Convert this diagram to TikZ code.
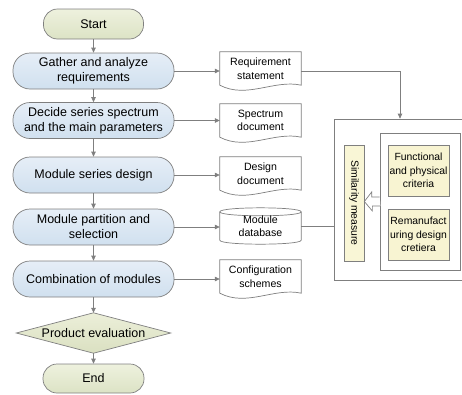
\documentclass[tikz,border=0pt]{standalone}
\usepackage{fontspec}
\setmainfont{Liberation Sans}
\usepackage{graphicx}
\usetikzlibrary{arrows.meta,calc,backgrounds}
\definecolor{lc}{HTML}{7F7F7F}
\definecolor{procA}{HTML}{E6EEF7}
\definecolor{procB}{HTML}{D0E0EF}
\definecolor{termA}{HTML}{EEF1DE}
\definecolor{termB}{HTML}{DCE3C5}
\definecolor{diaA}{HTML}{ECEFD9}
\definecolor{diaB}{HTML}{DAE0C1}
\definecolor{critc}{HTML}{F8F4D2}
\definecolor{simc}{HTML}{F9F6D6}
\tikzset{
  base/.style={draw=lc, line width=0.7pt, align=center, inner sep=0pt},
  term/.style={base, rounded corners=14pt, minimum width=100pt, minimum height=30pt,
    top color=termA, bottom color=termB, font=\fontsize{12.5}{15}\selectfont},
  proc/.style={base, rounded corners=17pt, minimum width=161pt, minimum height=36pt,
    top color=procA, bottom color=procB, font=\fontsize{12.5}{15}\selectfont},
  decn/.style={align=center, inner sep=0pt, minimum width=154pt, minimum height=40pt,
    font=\fontsize{12.5}{15}\selectfont},
  decshape/.style={draw=lc, line width=0.7pt, top color=diaA, bottom color=diaB},
  docn/.style={align=center, inner sep=0pt, minimum width=81pt, minimum height=33pt,
    font=\fontsize{10.6}{13.5}\selectfont},
  docshape/.style={draw=lc, line width=0.7pt, fill=white},
  crit/.style={base, fill=critc, minimum width=61pt, minimum height=51pt,
    font=\fontsize{10.4}{13.5}\selectfont},
  frame/.style={draw=lc, line width=0.7pt, inner sep=0pt},
  conn/.style={draw=lc, line width=0.7pt},
  arr/.style={conn, -{Triangle[length=5pt,width=4.5pt]}},
  hollow/.style={draw=lc, line width=0.7pt, fill=white, line join=miter}
}
\begin{document}
\begin{tikzpicture}[x=1pt,y=-1pt]
\useasboundingbox (0,0) rectangle (462,394);
\clip (0,0) rectangle (462,394);

% left column
\node[term] (start) at (93.5,24) {Start};
\node[proc] (gather) at (93.5,71) {Gather and analyze\\requirements};
\node[proc] (decide) at (93.5,120.5) {Decide series spectrum\\and the main parameters};
\node[proc] (series) at (93.5,175) {Module series design};
\node[proc] (part) at (93.5,227) {Module partition and\\selection};
\node[proc] (comb) at (93.5,279) {Combination of modules};
\node[decn] (eval) at (93.5,333) {Product evaluation};
\node[term, minimum width=101pt, minimum height=29pt] (end) at (93.5,378.5) {End};

% documents
\node[docn] (req) at (260.5,68.5) {Requirement\\statement};
\node[docn] (spec) at (260.5,120.5) {Spectrum\\document};
\node[docn] (des) at (260.5,173.5) {Design\\document};
\node[docn, minimum height=28pt] (db) at (260.5,226) {Module\\database};
\node[docn] (conf) at (260.5,276.5) {Configuration\\schemes};

\begin{scope}[on background layer]
  \draw[decshape] (eval.west) -- (eval.north) -- (eval.east) -- (eval.south) -- cycle;
  \foreach \n in {req,spec,des,conf}{
    \draw[docshape] (\n.south west) -- (\n.north west) -- (\n.north east) -- (\n.south east)
      .. controls ($(\n.south east)+(-27,-6)$) and ($(\n.south west)+(27,14)$) .. (\n.south west) -- cycle;
  }
  \draw[docshape] (db.north west) -- (db.south west)
    .. controls ($(db.south west)+(0,5.3)$) and ($(db.south east)+(0,5.3)$) .. (db.south east)
    -- (db.north east)
    .. controls ($(db.north east)+(0,-5.3)$) and ($(db.north west)+(0,-5.3)$) .. (db.north west) -- cycle;
  \draw[conn] (db.north west)
    .. controls ($(db.north west)+(0,5.3)$) and ($(db.north east)+(0,5.3)$) .. (db.north east);
\end{scope}

% right group
\node[frame, minimum width=132pt, minimum height=161pt] (big) at (400,199.5) {};
\node[frame, minimum width=80pt, minimum height=137pt] (inner) at (420,201.5) {};
\node[base, fill=simc, minimum width=20pt, minimum height=116pt,
  font=\fontsize{10.4}{12}\selectfont] (sim) at (354,203) {\rotatebox{-90}{Similarity measure}};
\node[crit] (func) at (418.5,170.5) {Functional\\and physical\\criteria};
\node[crit] (reman) at (418.5,234.5) {Remanufact\\uring design\\cretiera};

% flow arrows
\draw[arr] (start) -- (gather);
\draw[arr] (gather) -- (decide);
\draw[arr] (decide) -- (series);
\draw[arr] (series) -- (part);
\draw[arr] (part) -- (comb);
\draw[arr] (comb) -- (eval.north);
\draw[arr] (eval.south) -- (end);

% to documents
\draw[arr] (gather.east) -- (gather.east -| req.west);
\draw[arr] (decide.east) -- (decide.east -| spec.west);
\draw[arr] (series.east) -- (series.east -| des.west);
\draw[arr] (part.east) -- (part.east -| db.west);
\draw[arr] (comb.east) -- (comb.east -| conf.west);

% documents to measure box
\draw[arr] (req.east |- gather.east) -| (big.north);
\draw[conn] (db.east) -- (db.east -| big.west);

% hollow arrow
\draw[hollow] ([yshift=4.5pt]inner.west) -- ++(-8,0) -- ++(0,-5) -- (inner.west -| sim.east)
  -- ++(8,9.5) -- ++(0,-5) -- ++(8,0);
\end{tikzpicture}
\end{document}
